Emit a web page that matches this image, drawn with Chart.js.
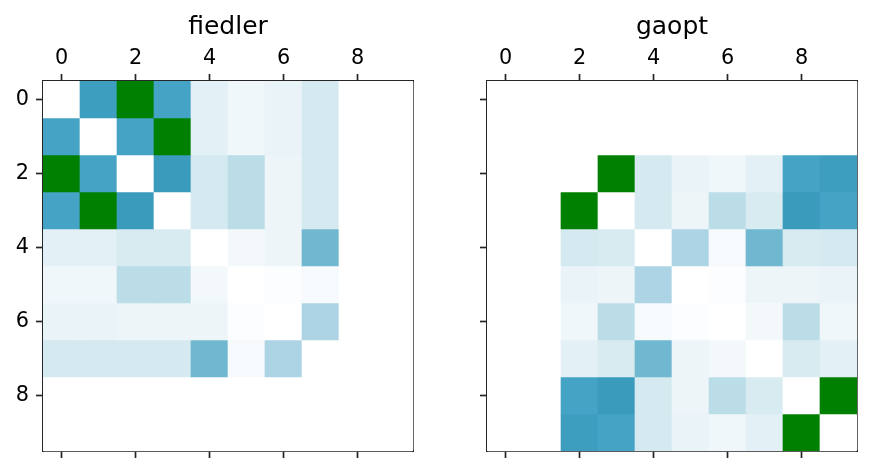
<!DOCTYPE html>
<html>
<head>
<meta charset="utf-8">
<script src="https://cdn.jsdelivr.net/npm/chart.js@4.4.0/dist/chart.umd.min.js"></script>
<style>
body { margin: 0; background: #fff; }
#wrap { position: relative; width: 871px; height: 473px; }
.box { position: absolute; top: 0; height: 473px; }
</style>
</head>
<body>
<div id="wrap">
  <div class="box" style="left:0;width:440px"><canvas id="leftChart" width="440" height="473"></canvas></div>
  <div class="box" style="left:440px;width:431px"><canvas id="rightChart" width="431" height="473"></canvas></div>
</div>
<script>
// categories / ticks
const labels = ['0', '1', '2', '3', '4', '5', '6', '7', '8', '9'];
const xTicks = [0, 2, 4, 6, 8];
const yTicks = [0, 2, 4, 6, 8];

// cell values (0 = white, 1 = darkest blue, above 1 = green)
const fiedler = [
    [0, 0.97, 1.5, 0.92, 0.15, 0.085, 0.115, 0.215, 0, 0],
    [0.92, 0, 0.92, 1.5, 0.15, 0.085, 0.115, 0.215, 0, 0],
    [1.5, 0.92, 0, 1.0, 0.215, 0.345, 0.1, 0.215, 0, 0],
    [0.92, 1.5, 1.0, 0, 0.215, 0.345, 0.1, 0.215, 0, 0],
    [0.15, 0.15, 0.2, 0.2, 0, 0.065, 0.1, 0.72, 0, 0],
    [0.085, 0.085, 0.345, 0.345, 0.065, 0, 0.02, 0.05, 0, 0],
    [0.115, 0.115, 0.1, 0.1, 0.1, 0.02, 0, 0.42, 0, 0],
    [0.215, 0.215, 0.215, 0.215, 0.72, 0.05, 0.42, 0, 0, 0],
    [0, 0, 0, 0, 0, 0, 0, 0, 0, 0],
    [0, 0, 0, 0, 0, 0, 0, 0, 0, 0]
];

const gaopt = [
    [0, 0, 0, 0, 0, 0, 0, 0, 0, 0],
    [0, 0, 0, 0, 0, 0, 0, 0, 0, 0],
    [0, 0, 0, 1.5, 0.215, 0.115, 0.085, 0.15, 0.92, 0.97],
    [0, 0, 1.5, 0, 0.215, 0.1, 0.345, 0.2, 1.0, 0.92],
    [0, 0, 0.215, 0.2, 0, 0.42, 0.05, 0.72, 0.2, 0.215],
    [0, 0, 0.115, 0.1, 0.42, 0, 0.02, 0.1, 0.1, 0.115],
    [0, 0, 0.085, 0.345, 0.05, 0.02, 0, 0.065, 0.345, 0.085],
    [0, 0, 0.15, 0.2, 0.72, 0.1, 0.065, 0, 0.2, 0.15],
    [0, 0, 0.92, 1.0, 0.215, 0.1, 0.345, 0.2, 0, 1.5],
    [0, 0, 0.97, 0.92, 0.215, 0.115, 0.085, 0.15, 1.5, 0]
];

const cmapStops = [
    [0, '#ffffff'], [0.1, '#edf5f9'], [0.2, '#d8ebf1'], [0.345, '#bbdde8'],
    [0.42, '#acd4e4'], [0.72, '#70b7d0'], [0.92, '#45a3c5'], [1, '#3a9bbd']
];
const overColor = '#008000';

const ink = '#262626';
const fontFamily = "'DejaVu Sans', sans-serif";


function hexToRgb(h) {
    return [parseInt(h.slice(1, 3), 16), parseInt(h.slice(3, 5), 16), parseInt(h.slice(5, 7), 16)];
}

function colorFor(v) {
    if (v > 1) return overColor;
    for (let i = 1; i < cmapStops.length; i++) {
        const [v1, c1] = cmapStops[i];
        if (v <= v1) {
            const [v0, c0] = cmapStops[i - 1];
            const t = (v - v0) / (v1 - v0);
            const a = hexToRgb(c0), b = hexToRgb(c1);
            const rgb = a.map((x, k) => Math.round(x + (b[k] - x) * t));
            return `rgb(${rgb[0]},${rgb[1]},${rgb[2]})`;
        }
    }
    return cmapStops[cmapStops.length - 1][1];
}


function buildDatasets(matrix) {
    return matrix.map((row, r) => ({
        data: row.map(() => [r - 0.5, r + 0.5]),
        backgroundColor: row.map(colorFor),
        borderWidth: 0,
        barPercentage: 1,
        categoryPercentage: 1,
        grouped: false
    }));
}


function createHeatmap(canvasId, title, matrix, showYLabels, yWidth, padRight) {
    const ctx = document.getElementById(canvasId).getContext('2d');
    const tickGrid = {
        offset: false,
        drawOnChartArea: false,
        tickLength: 7,
        tickWidth: 1.7,
        tickColor: ink,
        color: ink
    };
    const tickFont = { family: fontFamily, size: 20.8 };

    return new Chart(ctx, {
        type: 'bar',
        data: {
            labels: labels,
            datasets: buildDatasets(matrix)
        },
        options: {
            responsive: false,
            animation: false,
            events: [],
            layout: { padding: { left: 0, right: padRight, top: 0, bottom: 12 } },
            plugins: {
                legend: { display: false },
                tooltip: { enabled: false },
                title: {
                    display: true,
                    text: title,
                    fullSize: false,
                    color: '#000',
                    font: { family: fontFamily, size: 25, weight: 'normal' },
                    padding: { top: 12, bottom: 1 }
                }
            },
            scales: {
                x: {
                    type: 'category',
                    position: 'top',
                    offset: true,
                    grid: tickGrid,
                    border: { color: ink, width: 1.7 },
                    ticks: {
                        font: tickFont,
                        color: '#000',
                        padding: 2.5,
                        maxRotation: 0,
                        autoSkip: false,
                        callback: (v, i) => xTicks.includes(i) ? labels[i] : null
                    },
                    afterFit: s => { s.height = 38; }
                },
                x2: {
                    type: 'category',
                    position: 'bottom',
                    offset: true,
                    grid: tickGrid,
                    border: { color: ink, width: 1.7 },
                    ticks: {
                        font: tickFont,
                        autoSkip: false,
                        maxRotation: 0,
                        callback: (v, i) => xTicks.includes(i) ? '' : null
                    },
                    afterFit: s => { s.height = 10; }
                },
                y: {
                    type: 'linear',
                    reverse: true,
                    min: -0.5,
                    max: 9.5,
                    grid: tickGrid,
                    border: { color: ink, width: 1.7 },
                    afterBuildTicks: s => { s.ticks = yTicks.map(v => ({ value: v })); },
                    ticks: {
                        font: tickFont,
                        color: '#000',
                        padding: 7,
                        callback: v => showYLabels ? String(v) : ''
                    },
                    afterFit: s => { s.width = yWidth; }
                },
                y2: {
                    type: 'linear',
                    position: 'right',
                    grid: { drawOnChartArea: false, drawTicks: false },
                    border: { color: ink, width: 1.7 },
                    ticks: { display: false },
                    afterFit: s => { s.width = 0; }
                }
            }
        }
    });
}

window.onload = () => {
    createHeatmap('leftChart', 'fiedler', fiedler, true, 43, 27);
    createHeatmap('rightChart', 'gaopt', gaopt, false, 47, 14);
};
</script>
</body>
</html>
